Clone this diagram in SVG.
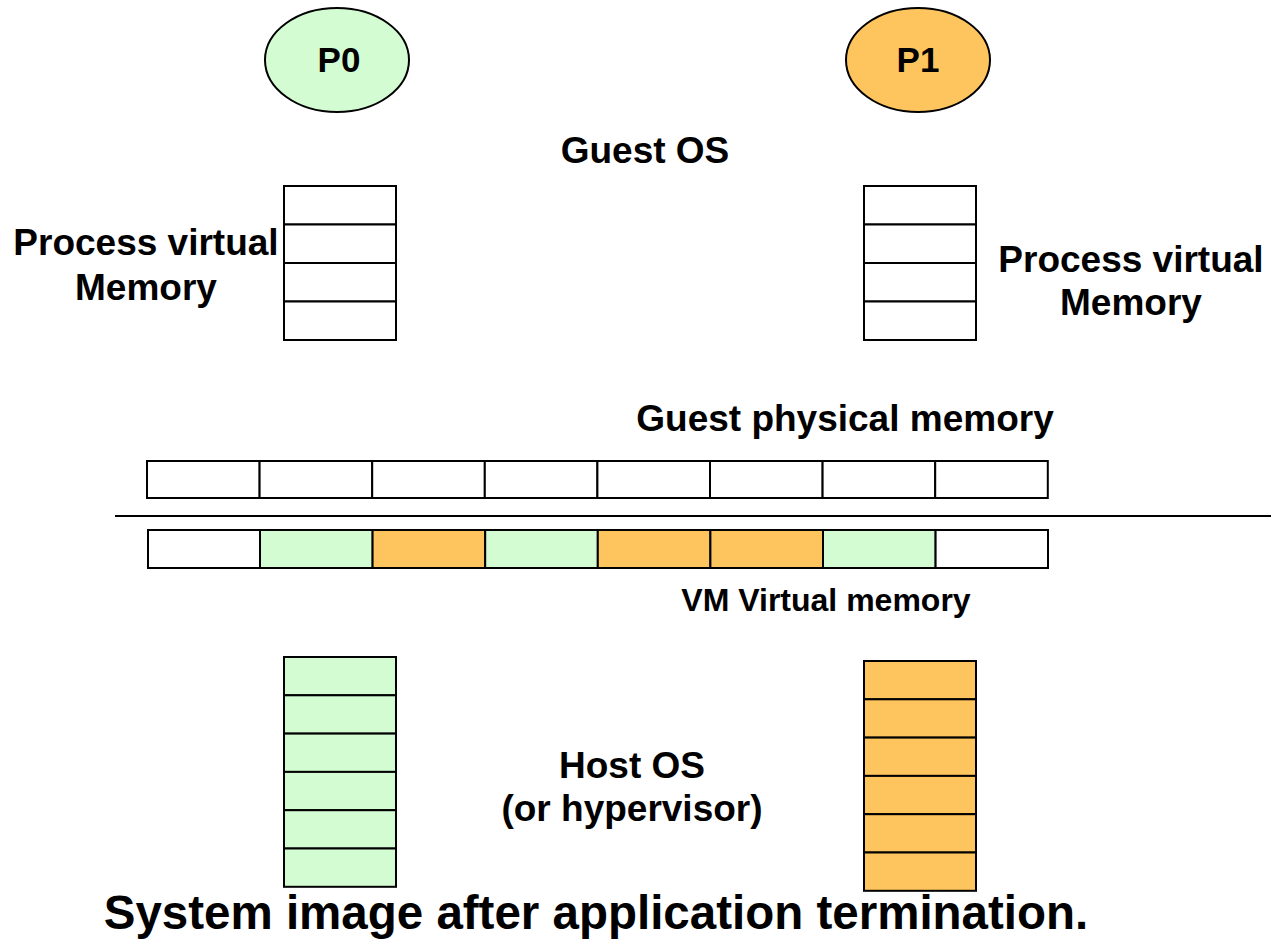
<svg xmlns="http://www.w3.org/2000/svg" width="1281" height="939" viewBox="0 0 1281 939">
<style>
text{font-family:"Liberation Sans",Arial,sans-serif;font-weight:bold;fill:#000}
.c{stroke:#000;stroke-width:2}
.w{fill:#fff}
.g{fill:#d3fcd3}
.o{fill:#fec55e}
.lbl{font-size:37px}
</style>
<rect width="1281" height="939" fill="#fff"/>
<g id="p0"><ellipse cx="337" cy="60" rx="72" ry="52" class="c g"/><text x="339" y="72" font-size="35" text-anchor="middle">P0</text></g>
<g id="p1"><ellipse cx="918" cy="60" rx="72" ry="52" class="c o"/><text x="918" y="72" font-size="35" text-anchor="middle">P1</text></g>
<text class="lbl" x="645" y="163" text-anchor="middle">Guest OS</text>
<g id="pvm0">
<rect x="284" y="186" width="112" height="38.5" class="c w"/>
<rect x="284" y="224.5" width="112" height="38.5" class="c w"/>
<rect x="284" y="263" width="112" height="38.5" class="c w"/>
<rect x="284" y="301.5" width="112" height="38.5" class="c w"/>
</g>
<g id="pvm1">
<rect x="864" y="186" width="112" height="38.5" class="c w"/>
<rect x="864" y="224.5" width="112" height="38.5" class="c w"/>
<rect x="864" y="263" width="112" height="38.5" class="c w"/>
<rect x="864" y="301.5" width="112" height="38.5" class="c w"/>
</g>
<text class="lbl" x="146" y="255" text-anchor="middle">Process virtual</text>
<text class="lbl" x="146" y="300" text-anchor="middle">Memory</text>
<text class="lbl" x="1131" y="272" text-anchor="middle">Process virtual</text>
<text class="lbl" x="1131" y="315" text-anchor="middle">Memory</text>
<text class="lbl" x="845" y="431" text-anchor="middle">Guest physical memory</text>
<g id="gpm">
<rect x="147" y="461" width="112.6" height="37" class="c w"/>
<rect x="259.6" y="461" width="112.6" height="37" class="c w"/>
<rect x="372.2" y="461" width="112.6" height="37" class="c w"/>
<rect x="484.8" y="461" width="112.6" height="37" class="c w"/>
<rect x="597.4" y="461" width="112.6" height="37" class="c w"/>
<rect x="710" y="461" width="112.6" height="37" class="c w"/>
<rect x="822.6" y="461" width="112.6" height="37" class="c w"/>
<rect x="935.2" y="461" width="112.6" height="37" class="c w"/>
</g>
<g id="connectors"><line x1="115" y1="516" x2="1271" y2="516" stroke="#000" stroke-width="2"/></g>
<g id="vmvm">
<rect x="148" y="530" width="112" height="38" class="c w"/>
<rect x="260" y="530" width="112.6" height="38" class="c g"/>
<rect x="372.6" y="530" width="112.6" height="38" class="c o"/>
<rect x="485.2" y="530" width="112.6" height="38" class="c g"/>
<rect x="597.8" y="530" width="112.6" height="38" class="c o"/>
<rect x="710.4" y="530" width="112.6" height="38" class="c o"/>
<rect x="823" y="530" width="112.6" height="38" class="c g"/>
<rect x="935.6" y="530" width="112.4" height="38" class="c w"/>
</g>
<text x="826" y="611" font-size="32" text-anchor="middle">VM Virtual memory</text>
<g id="host0">
<rect x="284" y="657" width="112" height="38.3" class="c g"/>
<rect x="284" y="695.3" width="112" height="38.3" class="c g"/>
<rect x="284" y="733.6" width="112" height="38.3" class="c g"/>
<rect x="284" y="771.9" width="112" height="38.3" class="c g"/>
<rect x="284" y="810.2" width="112" height="38.3" class="c g"/>
<rect x="284" y="848.5" width="112" height="38.3" class="c g"/>
</g>
<g id="host1">
<rect x="864" y="661" width="112" height="38.3" class="c o"/>
<rect x="864" y="699.3" width="112" height="38.3" class="c o"/>
<rect x="864" y="737.6" width="112" height="38.3" class="c o"/>
<rect x="864" y="775.9" width="112" height="38.3" class="c o"/>
<rect x="864" y="814.2" width="112" height="38.3" class="c o"/>
<rect x="864" y="852.5" width="112" height="38.3" class="c o"/>
</g>
<text class="lbl" x="632" y="778" text-anchor="middle">Host OS</text>
<text class="lbl" x="632" y="821" text-anchor="middle">(or hypervisor)</text>
<text x="596" y="929" font-size="47.5" text-anchor="middle">System image after application termination.</text>
</svg>
